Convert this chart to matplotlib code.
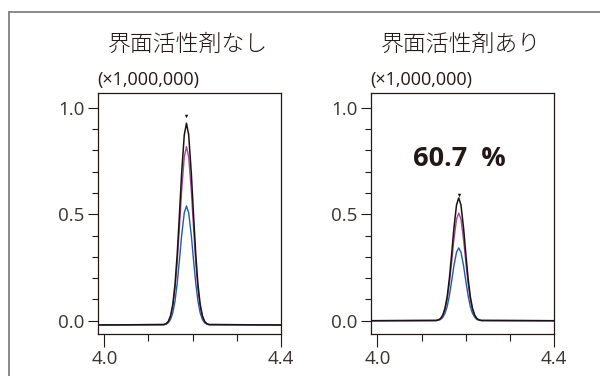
import matplotlib
matplotlib.use("Agg")
from matplotlib import pyplot as plt
from matplotlib.ticker import MultipleLocator

plt.rcParams['font.family'] = ['Noto Sans CJK JP', 'DejaVu Sans']
plt.rcParams['font.weight'] = 'light'
num_font = ['Open Sans', 'Noto Sans CJK JP', 'DejaVu Sans']

# retention time (min) sampled across each chromatogram
time_left = [3.985, 4.135, 4.140, 4.145, 4.150, 4.155, 4.160, 4.165, 4.170, 4.175, 4.181,
             4.186, 4.191, 4.197, 4.202, 4.207, 4.212, 4.217, 4.222, 4.227, 4.232, 4.237, 4.400]
time_right = [3.985, 4.133, 4.138, 4.143, 4.148, 4.153, 4.158, 4.163, 4.168, 4.173, 4.179,
              4.184, 4.189, 4.195, 4.200, 4.205, 4.210, 4.215, 4.220, 4.225, 4.230, 4.235, 4.400]

# intensities (x1,000,000), without surfactant
black_left = [-0.020, -0.018, -0.014, -0.003, 0.024, 0.077, 0.170, 0.312, 0.496, 0.691, 0.873,
              0.928, 0.873, 0.691, 0.496, 0.312, 0.170, 0.077, 0.024, -0.003, -0.014, -0.018, -0.020]
magenta_left = [-0.020, -0.018, -0.015, -0.005, 0.019, 0.065, 0.148, 0.273, 0.436, 0.609, 0.769,
                0.818, 0.769, 0.609, 0.436, 0.273, 0.148, 0.065, 0.019, -0.005, -0.015, -0.018, -0.020]
blue_left = [-0.020, -0.019, -0.016, -0.010, 0.006, 0.037, 0.092, 0.176, 0.284, 0.399, 0.507,
             0.539, 0.507, 0.399, 0.284, 0.176, 0.092, 0.037, 0.006, -0.010, -0.016, -0.019, -0.020]

# intensities (x1,000,000), with surfactant
black_right = [0.0, 0.001, 0.004, 0.010, 0.027, 0.059, 0.115, 0.202, 0.314, 0.433, 0.544,
               0.577, 0.544, 0.433, 0.314, 0.202, 0.115, 0.059, 0.027, 0.010, 0.004, 0.001, 0.0]
magenta_right = [0.0, 0.001, 0.003, 0.009, 0.023, 0.052, 0.101, 0.177, 0.275, 0.380, 0.477,
                 0.506, 0.477, 0.380, 0.275, 0.177, 0.101, 0.052, 0.023, 0.009, 0.003, 0.001, 0.0]
blue_right = [0.0, 0.001, 0.002, 0.006, 0.016, 0.035, 0.068, 0.120, 0.186, 0.257, 0.322,
              0.342, 0.322, 0.257, 0.186, 0.120, 0.068, 0.035, 0.016, 0.006, 0.002, 0.001, 0.0]

peak_marks = [(4.186, 0.960), (4.184, 0.592)]
titles = ['界面活性剤なし', '界面活性剤あり']
ratio_text = '60.7  %'

dark = '#231815'
c_black = '#1a1311'
c_magenta = '#a24a8e'
c_blue = '#1f5ca5'

fig = plt.figure(figsize=(6.0, 3.76), dpi=100)

# thin grey frame (top and left edges only)
fig.add_artist(plt.Line2D([9 / 600, 1.0], [1 - 12 / 376, 1 - 12 / 376], color='#808080', lw=1.3))
fig.add_artist(plt.Line2D([9 / 600, 9 / 600], [0.0, 1 - 12 / 376], color='#808080', lw=1.3))

ax1 = fig.add_axes([97.7 / 600, 42 / 376, 183.3 / 600, 241 / 376])
ax2 = fig.add_axes([370.7 / 600, 42 / 376, 183.6 / 600, 241 / 376])

data = [(ax1, time_left, blue_left, magenta_left, black_left),
        (ax2, time_right, blue_right, magenta_right, black_right)]

for i, (ax, t, b, m, k) in enumerate(data):
    ax.plot(t, b, color=c_blue, lw=1.0)
    ax.plot(t, m, color=c_magenta, lw=1.0)
    ax.plot(t, k, color=c_black, lw=1.1)
    ax.plot(peak_marks[i][0], peak_marks[i][1], marker='v', color=c_black, ms=2.5, mew=0)

    ax.set_xlim(3.985, 4.4)
    ax.set_ylim(-0.0625, 1.07)
    ax.set_xticks([4.0, 4.4])
    ax.set_xticklabels(['4.0', '4.4'], family=num_font, weight='normal')
    ax.xaxis.set_minor_locator(MultipleLocator(0.1))
    ax.set_yticks([0.0, 0.5, 1.0])
    ax.set_yticklabels(['0.0', '0.5', '1.0'], family=num_font, weight='normal')
    ax.yaxis.set_minor_locator(MultipleLocator(0.1))

    ax.tick_params(axis='x', which='major', direction='out', length=9, width=0.8,
                   color=dark, labelcolor='#3a3330', labelsize=13.5, pad=2.5)
    ax.tick_params(axis='x', which='minor', direction='out', length=5, width=0.8, color=dark)
    ax.tick_params(axis='y', which='major', direction='out', length=7.5, width=0.8,
                   color=dark, labelcolor='#3a3330', labelsize=13.5, pad=2)
    ax.tick_params(axis='y', which='minor', direction='out', length=4.5, width=0.8, color=dark)
    for s in ax.spines.values():
        s.set_color(dark)
        s.set_linewidth(0.9)

    ax.text(0.0, 1.055, '(×1,000,000)', transform=ax.transAxes, ha='left', va='center',
            fontsize=13, color=dark, family=num_font, weight='normal')
    ax.text(0.49, 1.2, titles[i], transform=ax.transAxes, ha='center', va='center',
            fontsize=16.5, color=dark)

ax2.text(4.186, 0.76, ratio_text, ha='center', va='center', fontsize=19.5,
         fontweight='bold', color=dark, family=num_font)

fig.savefig('out.png', dpi=100)
